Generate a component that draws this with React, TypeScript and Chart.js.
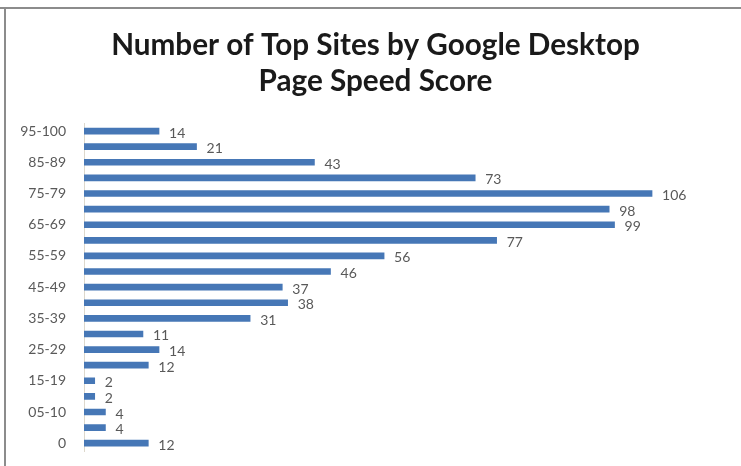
import React, { useEffect, useRef } from "react";
import { Chart, registerables } from "chart.js";

Chart.register(...registerables);

const categories = [
  "95-100", "90-94", "85-89", "80-84", "75-79", "70-74", "65-69", "60-64",
  "55-59", "50-54", "45-49", "40-44", "35-39", "30-34", "25-29", "20-24",
  "15-19", "10-14", "05-10", "01-04", "0",
];
const siteCounts = [14, 21, 43, 73, 106, 98, 99, 77, 56, 46, 37, 38, 31, 11, 14, 12, 2, 2, 4, 4, 12];
const titleLines = ["Number of Top Sites by Google Desktop", "Page Speed Score"];

const FONT = "Lato, 'Open Sans', sans-serif";

const valueLabels = {
  id: "valueLabels",
  afterDatasetsDraw(chart: any) {
    const { ctx } = chart;
    const meta = chart.getDatasetMeta(0);
    ctx.save();
    ctx.font = "14px " + FONT;
    ctx.fillStyle = "#595959";
    ctx.textAlign = "left";
    ctx.textBaseline = "middle";
    meta.data.forEach((bar: any, i: number) => {
      ctx.fillText(String(siteCounts[i]), bar.x + 10, bar.y + 2);
    });
    ctx.restore();
  },
};

export default function App() {
  const ref = useRef<HTMLCanvasElement | null>(null);
  useEffect(() => {
    if (!ref.current) return;
    const chart = new Chart(ref.current, {
      type: "bar",
      data: {
        labels: categories,
        datasets: [
          {
            data: siteCounts,
            backgroundColor: "#4677b6",
            barThickness: 6,
          },
        ],
      },
      options: {
        indexAxis: "y",
        animation: false,
        responsive: false,
        layout: { padding: { top: 0, bottom: 15, right: 0, left: 10 } },
        plugins: {
          legend: { display: false },
          tooltip: { enabled: false },
          title: {
            display: true,
            text: titleLines,
            color: "#1a1a1a",
            font: { size: 29.7, weight: "bold", family: FONT, lineHeight: 1.2 },
            padding: { top: 28, bottom: 24 },
          },
        },
        scales: {
          x: { display: false, min: 0, max: 122.6 },
          y: {
            afterFit: (s: any) => {
              s.width = 74;
              s.paddingTop = 0;
              s.paddingBottom = 0;
            },
            grid: { display: false, drawTicks: false },
            border: { display: true, color: "#ddd8cc", width: 1 },
            ticks: {
              autoSkip: false,
              padding: 18,
              color: "#595959",
              font: { size: 14, family: FONT },
              callback: (_v: any, i: number) => (i % 2 === 0 ? categories[i] : ""),
            },
          },
        },
      },
      plugins: [valueLabels],
    });
    return () => chart.destroy();
  }, []);
  return (
    <div style={{ position: "fixed", left: 0, top: 0, width: 741, height: 466, background: "#fff" }}>
      <canvas ref={ref} width={741} height={466} style={{ position: "absolute", left: 0, top: 0 }} />
      <div style={{ position: "absolute", left: 0, top: 7, width: 741, height: 2, background: "#8c8c8c" }} />
      <div style={{ position: "absolute", left: 4, top: 7, width: 2, height: 459, background: "#8c8c8c" }} />
    </div>
  );
}
